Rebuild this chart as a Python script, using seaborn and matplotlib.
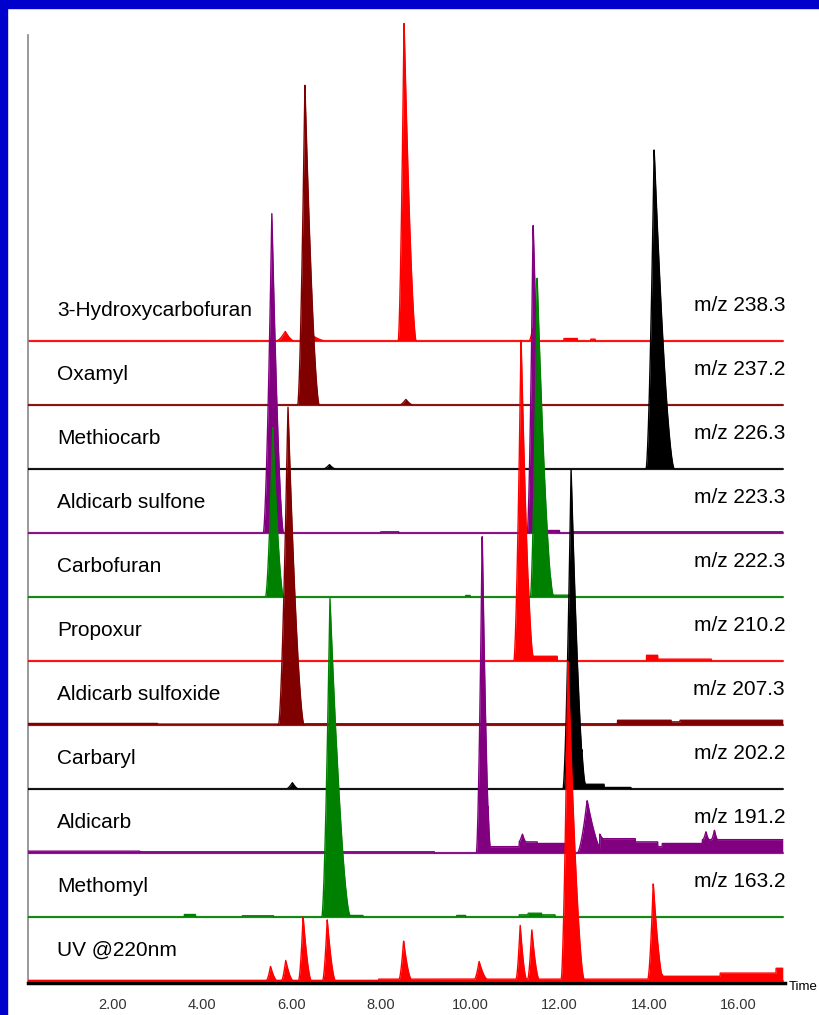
import numpy as np
import matplotlib
matplotlib.use("Agg")
import matplotlib.pyplot as plt
from matplotlib.ticker import MultipleLocator, FuncFormatter
from matplotlib.patches import Rectangle
import seaborn as sns

# traces from top to bottom
names = ['3-Hydroxycarbofuran', 'Oxamyl', 'Methiocarb', 'Aldicarb sulfone', 'Carbofuran',
         'Propoxur', 'Aldicarb sulfoxide', 'Carbaryl', 'Aldicarb', 'Methomyl', 'UV @220nm']
mz_labels = ['m/z 238.3', 'm/z 237.2', 'm/z 226.3', 'm/z 223.3', 'm/z 222.3',
             'm/z 210.2', 'm/z 207.3', 'm/z 202.2', 'm/z 191.2', 'm/z 163.2', '']
colors = ['#ff0000', '#800000', '#000000', '#800080', '#008000',
          '#ff0000', '#800000', '#000000', '#800080', '#008000', '#ff0000']

# peaks per trace: (retention time, height %, half base width left, half base width right)
peaks = [
    [(8.52, 100, 0.13, 0.27), (5.86, 3.0, 0.2, 0.2), (6.42, 2.2, 0.15, 0.35), (11.40, 4.0, 0.08, 0.12)],
    [(6.30, 100, 0.16, 0.32), (8.56, 1.8, 0.14, 0.16)],
    [(14.12, 100, 0.18, 0.45), (6.85, 1.4, 0.14, 0.14)],
    [(5.56, 100, 0.19, 0.26), (11.41, 97, 0.13, 0.30)],
    [(5.58, 53, 0.16, 0.24), (11.50, 100, 0.15, 0.36)],
    [(11.14, 101, 0.16, 0.27)],
    [(5.92, 100, 0.21, 0.36)],
    [(12.26, 100, 0.18, 0.32), (6.02, 2.0, 0.14, 0.14)],
    [(10.27, 100, 0.13, 0.18), (11.17, 2.5, 0.08, 0.08), (12.62, 16.5, 0.22, 0.36),
     (15.28, 2.5, 0.07, 0.07), (15.47, 3.0, 0.07, 0.07)],
    [(6.86, 100, 0.18, 0.45)],
    [(5.53, 4.4, 0.09, 0.14), (5.87, 6.3, 0.09, 0.16), (6.26, 20, 0.10, 0.18), (6.80, 19, 0.10, 0.18),
     (8.51, 12, 0.10, 0.17), (10.20, 5.6, 0.10, 0.18), (11.12, 17, 0.09, 0.14), (11.38, 15.6, 0.09, 0.16),
     (12.19, 100, 0.15, 0.36), (14.10, 30, 0.12, 0.22)],
]

# flat noise / baseline steps per trace: (start, end, level %)
segments = [
    [(12.1, 12.4, 0.8), (12.7, 12.8, 0.6)],
    [],
    [],
    [(8.0, 8.4, 0.4), (11.55, 12.0, 0.8), (12.3, 17.0, 0.4)],
    [(11.8, 12.3, 0.6), (9.9, 10.0, 0.5)],
    [(11.3, 11.95, 1.5), (13.95, 14.2, 1.8), (14.2, 15.4, 0.6)],
    [(0.1, 3.0, 0.5), (3.0, 5.7, 0.3), (6.3, 13.3, 0.4), (13.3, 14.5, 1.5), (14.5, 14.7, 1.0), (14.7, 17.0, 1.5)],
    [(12.5, 13.0, 1.5), (13.0, 13.6, 0.5)],
    [(0.1, 2.6, 0.6), (2.6, 9.2, 0.4), (10.4, 11.1, 2.0), (11.1, 11.5, 3.5), (11.5, 12.2, 3.0),
     (12.9, 13.7, 4.5), (13.7, 14.2, 3.5), (14.2, 14.3, 2.0), (14.3, 15.2, 3.0), (15.2, 17.0, 4.2)],
    [(3.6, 3.85, 0.8), (4.9, 5.6, 0.4), (7.0, 7.6, 0.5), (9.7, 9.9, 0.5), (11.1, 11.9, 0.7), (11.3, 11.6, 1.2)],
    [(0.1, 7.95, 0.2), (7.95, 14.3, 0.6), (14.3, 15.6, 1.5), (15.6, 16.85, 2.5), (16.85, 17.0, 4.0)],
]

lane_step = 20.0      # vertical offset between traces, in % units
px_per_unit = 3.2
shape_power = 1.6

sns.set_style('white')
plt.rcParams['font.family'] = ['Liberation Sans', 'DejaVu Sans']

W, H = 819, 1015
fig = plt.figure(figsize=(W / 100, H / 100), dpi=100)
fig.patch.set_facecolor('white')
ax = fig.add_axes([28 / W, (H - 983) / H, (785 - 28) / W, (983 - 8) / H])
ax.set_xlim(0.1, 17.05)
ax.set_ylim(0, (983 - 8) / px_per_unit)

t = np.linspace(0.1, 17.0, 5000)
n = len(names)
for i, name in enumerate(names):
    base = (n - 1 - i) * lane_step + 0.6
    y = np.zeros_like(t)
    for (a, b, lev) in segments[i]:
        y = np.where((t >= a) & (t <= b), np.maximum(y, lev), y)
    for (rt, h, wl, wr) in peaks[i]:
        w = np.where(t < rt, wl, wr)
        y = y + h * np.clip(1 - np.abs(t - rt) / w, 0, None) ** shape_power
    z = 2 + i
    ax.fill_between(t, base, base + y, color=colors[i], lw=0, zorder=z)
    sns.lineplot(x=t, y=base + y, color=colors[i], lw=1.0, estimator=None, sort=False, ax=ax, zorder=z)
    ax.plot([0.1, 17.0], [base, base], color=colors[i], lw=1.6, alpha=0.75, zorder=z)
    ax.text(0.75, base + 9.7, name, fontsize=15, va='center', ha='left', color='black', zorder=20)
    if mz_labels[i]:
        ax.text(17.05, base + 11, mz_labels[i], fontsize=15, va='center', ha='right', color='black', zorder=20)

for side in ['top', 'right']:
    ax.spines[side].set_visible(False)
ax.spines['left'].set_color('#888888')
ax.spines['left'].set_linewidth(1.2)
ax.spines['left'].set_bounds(0, (983 - 35) / px_per_unit)
ax.spines['bottom'].set_color('black')
ax.spines['bottom'].set_linewidth(2.5)
ax.spines['bottom'].set_zorder(30)
ax.set_yticks([])
ax.xaxis.set_major_locator(MultipleLocator(1.0))
ax.xaxis.set_minor_locator(MultipleLocator(0.2))
ax.xaxis.set_major_formatter(FuncFormatter(lambda v, p: f"{v:.2f}" if int(round(v)) % 2 == 0 else ""))
ax.tick_params(axis='x', which='major', direction='out', length=7, width=1, color='#444444',
               labelsize=10.5, labelcolor='#333333', pad=4)
ax.tick_params(axis='x', which='minor', direction='out', length=4, width=0.8, color='#555555')
ax.set_xlabel('')

fig.text(789 / W, 1 - 987 / H, 'Time', fontsize=9.5, va='center', ha='left', color='black')

# blue frame on top and left
fig.patches.append(Rectangle((0, 1 - 8 / H), 1, 8 / H, transform=fig.transFigure,
                             color='#0000cc', zorder=100))
fig.patches.append(Rectangle((0, 0), 7 / W, 1, transform=fig.transFigure,
                             color='#0000cc', zorder=100))

fig.savefig('out.png', dpi=100, facecolor='white')
